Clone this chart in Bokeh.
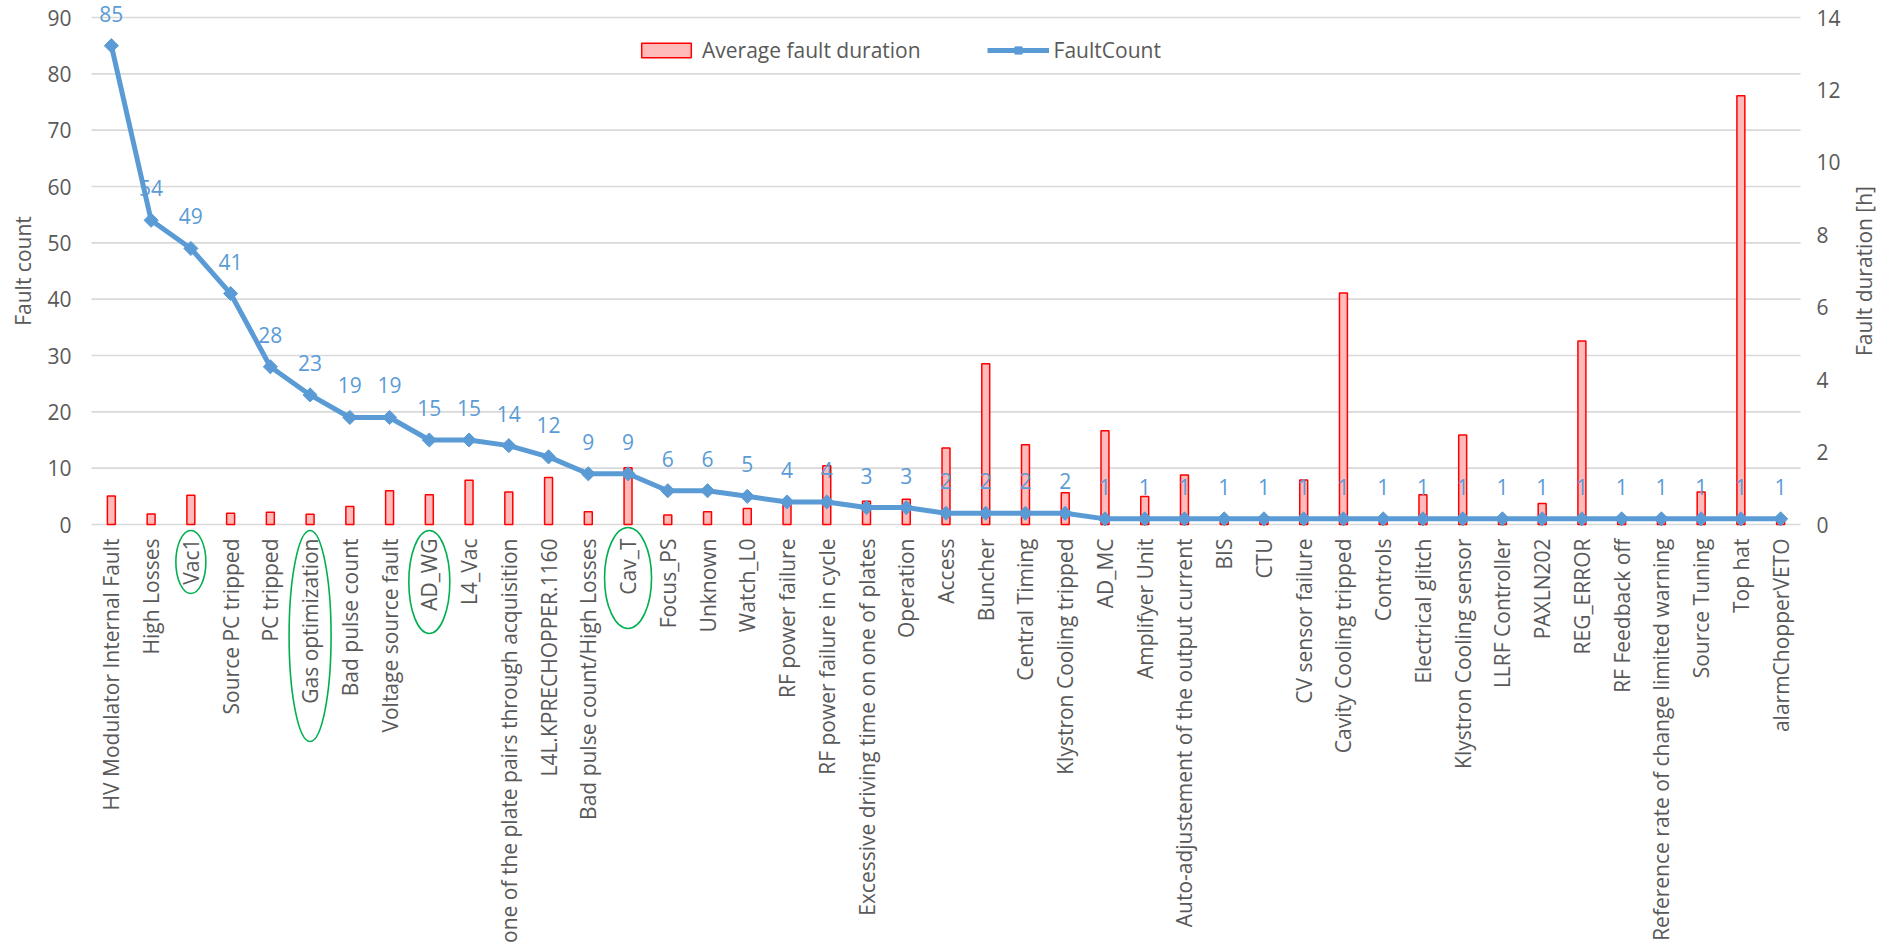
import math
from bokeh.plotting import figure
from bokeh.models import (Range1d, LinearAxis, FixedTicker, Legend, LegendItem,
                          ColumnDataSource)
from bokeh.core.properties import value
from bokeh.embed import file_html
from bokeh.resources import INLINE

# ---------------- data ----------------
categories = [
    "HV Modulator Internal Fault", "High Losses", "Vac1", "Source PC tripped",
    "PC tripped", "Gas optimization", "Bad pulse count", "Voltage source fault",
    "AD_WG", "L4_Vac", "one of the plate pairs through acquisition",
    "L4L.KPRECHOPPER.1160", "Bad pulse count/High Losses", "Cav_T", "Focus_PS",
    "Unknown", "Watch_L0", "RF power failure", "RF power failure in cycle",
    "Excessive driving time on one of plates", "Operation", "Access", "Buncher",
    "Central Timing", "Klystron Cooling tripped", "AD_MC", "Amplifyer Unit",
    "Auto-adjustement of the output current", "BIS", "CTU", "CV sensor failure",
    "Cavity Cooling tripped", "Controls", "Electrical glitch",
    "Klystron Cooling sensor", "LLRF Controller", "PAXLN202", "REG_ERROR",
    "RF Feedback off", "Reference rate of change limited warning",
    "Source Tuning", "Top hat", "alarmChopperVETO",
]
fault_count = [85, 54, 49, 41, 28, 23, 19, 19, 15, 15, 14, 12, 9, 9, 6, 6, 5, 4, 4,
               3, 3, 2, 2, 2, 2, 1, 1, 1, 1, 1, 1, 1, 1, 1, 1, 1, 1, 1, 1, 1, 1, 1, 1]
avg_duration_h = [0.79, 0.29, 0.81, 0.31, 0.34, 0.28, 0.50, 0.93, 0.82, 1.22,
                  0.90, 1.30, 0.35, 1.57, 0.26, 0.35, 0.44, 0.63, 1.62, 0.64,
                  0.70, 2.11, 4.44, 2.20, 0.88, 2.59, 0.77, 1.37, 0.08, 0.08,
                  1.23, 6.39, 0.08, 0.82, 2.47, 0.08, 0.58, 5.07, 0.08, 0.08,
                  0.90, 11.84, 0.08]
count_ticks = [0, 10, 20, 30, 40, 50, 60, 70, 80, 90]
duration_ticks = [0, 2, 4, 6, 8, 10, 12, 14]
highlighted = ["Vac1", "Gas optimization", "AD_WG", "Cav_T"]
series_names = ["Average fault duration", "FaultCount"]
axis_titles = ["Fault count", "Fault duration [h]"]

# ---------------- style / layout ----------------
FONT = "Open Sans"
TXT = "#595959"
BLUE = "#5B9BD5"
GRID = "#D9D9D9"
FS = "21px"

W, H = 1886, 946
PL, PR, PT, PB = 91, 1800, 17, 524      # plot-area box in px
n = len(categories)
cat_px = (PR - PL) / n
c_lo, c_hi = count_ticks[0], count_ticks[-1]
d_hi = duration_ticks[-1]
unit_px = (PB - PT) / (c_hi - c_lo)
dur_per_count = d_hi / c_hi

x_start, x_end = -PL / cat_px, n + (W - PR) / cat_px
y_start, y_end = c_lo - (H - PB) / unit_px, c_lo + PB / unit_px

xpos = [i + 0.5 for i in range(n)]
src = ColumnDataSource(dict(
    x=xpos, cat=categories, count=fault_count, dur=avg_duration_h,
    label=[str(c) for c in fault_count],
))

p = figure(width=W, height=H,
           x_range=Range1d(x_start, x_end), y_range=Range1d(y_start, y_end),
           output_backend="svg", toolbar_location=None,
           min_border_left=0, min_border_right=0, min_border_top=0,
           min_border_bottom=0, x_axis_type=None, y_axis_type=None)
p.extra_y_ranges = {"dur": Range1d(y_start * dur_per_count, y_end * dur_per_count)}
p.outline_line_color = None
p.background_fill_color = "white"
p.border_fill_color = "white"
p.grid.visible = False

def style_axis(ax):
    ax.axis_line_color = None
    ax.major_tick_line_color = None
    ax.minor_tick_line_color = None
    ax.major_tick_out = 0
    ax.major_tick_in = 0
    ax.major_label_text_font = FONT
    ax.major_label_text_font_size = FS
    ax.major_label_text_color = TXT

# x axis (categories), pinned at count 0
xa = LinearAxis(ticker=FixedTicker(ticks=xpos),
                major_label_overrides={x: c for x, c in zip(xpos, categories)},
                fixed_location=c_lo)
style_axis(xa)
xa.major_label_orientation = math.pi / 2
xa.major_label_standoff = 14
p.add_layout(xa, "below")

# left axis (fault count)
ya = LinearAxis(ticker=FixedTicker(ticks=count_ticks), fixed_location=0)
style_axis(ya)
ya.major_label_standoff = 20
p.add_layout(ya, "left")

# right axis (duration)
ra = LinearAxis(y_range_name="dur", ticker=FixedTicker(ticks=duration_ticks),
                fixed_location=n)
style_axis(ra)
ra.major_label_standoff = 16
p.add_layout(ra, "right")

# horizontal gridlines over the plot area
gsrc = ColumnDataSource(dict(y=count_ticks, x0=[0] * len(count_ticks),
                             x1=[n] * len(count_ticks)))
p.segment(x0="x0", x1="x1", y0="y", y1="y", source=gsrc,
          line_color=GRID, line_width=1.6)

# bars (average duration, right axis)
bars = p.vbar(x="x", top="dur", width=0.2, source=src, y_range_name="dur",
              fill_color="#FFBABA", line_color="#FF0000", line_width=1.5)

# line + markers (fault count)
ln = p.line(x="x", y="count", source=src, line_color=BLUE, line_width=5,
            line_join="round")
mk = p.scatter(x="x", y="count", source=src, marker="square", angle=math.pi / 4,
               size=10, fill_color=BLUE, line_color=BLUE)

# data labels
p.text(x="x", y="count", text="label", source=src, y_offset=-32,
       text_align="center", text_baseline="middle",
       text_font=value(FONT), text_font_size=value(FS), text_color=BLUE)

# axis titles
mid = (c_lo + c_hi) / 2
tsrc = ColumnDataSource(dict(
    x=[(22 - PL) / cat_px, n + (1863 - PR) / cat_px],
    y=[mid, mid], t=axis_titles))
p.text(x="x", y="y", text="t", source=tsrc, angle=math.pi / 2,
       text_align="center", text_baseline="middle",
       text_font=value(FONT), text_font_size=value(FS), text_color=TXT)

# green highlight ellipses around some category labels
# (half width px, gap below axis px, height px)
ellipse_shape = {
    "Vac1": (15, 6, 63),
    "Gas optimization": (21, 6, 211),
    "AD_WG": (20.5, 6, 103),
    "Cav_T": (23.5, 3, 101),
}
ex, ey, ew, eh = [], [], [], []
for name in highlighted:
    hw, top_off, hh = ellipse_shape[name]
    ex.append(xpos[categories.index(name)])
    ey.append(c_lo - (top_off + hh / 2) / unit_px)
    ew.append(2 * hw / cat_px)
    eh.append(hh / unit_px)
p.ellipse(x=ex, y=ey, width=ew, height=eh, fill_color=None,
          line_color="#00B050", line_width=1.6)

# legend
legend = Legend(items=[
    LegendItem(label=series_names[0], renderers=[bars]),
    LegendItem(label=series_names[1], renderers=[ln, mk]),
], orientation="horizontal", location=(635, H - 53 - 11),
    glyph_width=62, glyph_height=18, label_standoff=5, spacing=66,
    padding=0, margin=0, border_line_color=None, background_fill_alpha=0,
    label_text_font=FONT, label_text_font_size=FS, label_text_color=TXT,
    label_height=22)
p.add_layout(legend, "center")

open("out.html", "w").write(file_html(p, INLINE))
